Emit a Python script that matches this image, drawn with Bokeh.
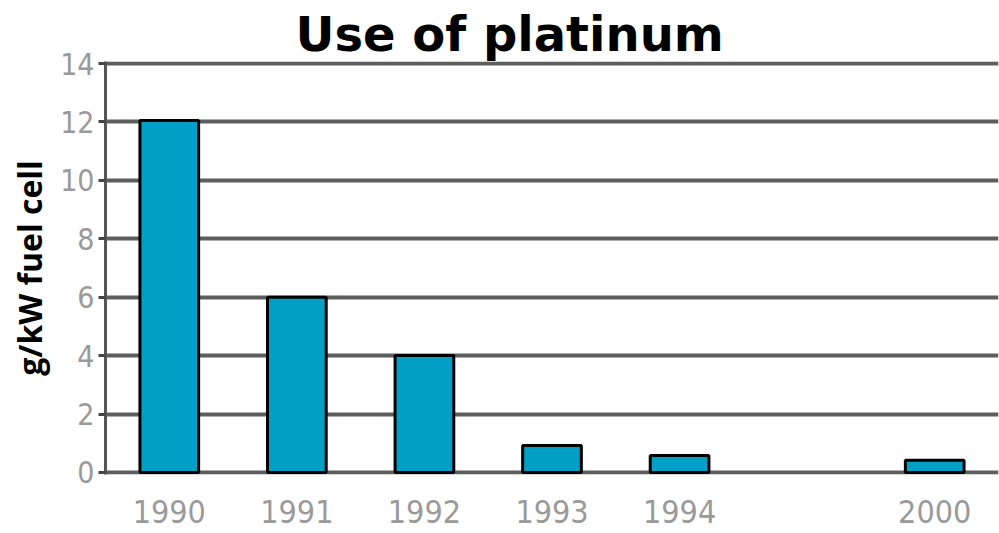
from bokeh.plotting import figure
from bokeh.models import FactorRange, FixedTicker, ColumnDataSource, Range1d
from bokeh.embed import file_html
from bokeh.resources import INLINE

title_text = "Use of platinum"
years = ["1990", "1991", "1992", "1993", "1994", "2000"]
values = [12.05, 6.0, 4.0, 0.92, 0.58, 0.42]
axis_factors = ["1990", "1991", "1992", "1993", "1994", " ", "2000"]
y_ticks = [0, 2, 4, 6, 8, 10, 12, 14]

src = ColumnDataSource(dict(x=years, top=values))

TICK_FONT = "'DejaVu Sans Condensed', 'Roboto', sans-serif"

p = figure(width=999, height=533, output_backend="svg", toolbar_location=None,
           x_range=FactorRange(factors=axis_factors, range_padding=0),
           y_range=Range1d(-0.07, 14.07),
           min_border_left=105, min_border_right=1, min_border_top=61, min_border_bottom=55,
           title=title_text)

p.title.text_font = "DejaVu Sans"
p.title.text_font_style = "bold"
p.title.text_font_size = "48px"
p.title.text_color = "black"
p.title.align = "left"
p.title.offset = 190
p.title.standoff = 0

p.outline_line_color = None
p.background_fill_color = "white"
p.border_fill_color = "white"

p.vbar(x="x", top="top", bottom=0, width=0.46, source=src,
       fill_color="#00A0C6", line_color="black", line_width=3)

p.xgrid.grid_line_color = None
p.ygrid.ticker = FixedTicker(ticks=y_ticks)
p.ygrid.grid_line_color = "#5e5e5e"
p.ygrid.grid_line_width = 4
p.ygrid.level = "underlay"

p.yaxis.ticker = FixedTicker(ticks=y_ticks)
p.yaxis.axis_line_color = "#555555"
p.yaxis.axis_line_width = 3
p.yaxis.major_tick_line_color = "#444444"
p.yaxis.major_tick_line_width = 3
p.yaxis.major_tick_out = 7
p.yaxis.major_tick_in = 0
p.yaxis.minor_tick_line_color = None
p.yaxis.major_label_text_font = TICK_FONT
p.yaxis.major_label_text_font_size = "30px"
p.yaxis.major_label_text_color = "#9a9a9a"
p.yaxis.major_label_standoff = 4
p.yaxis.axis_label = "g/kW fuel cell"
p.yaxis.axis_label_text_font = "Open Sans"
p.yaxis.axis_label_text_font_style = "bold"
p.yaxis.axis_label_text_font_size = "32px"
p.yaxis.axis_label_text_color = "black"
p.yaxis.axis_label_standoff = 6

p.xaxis.axis_line_color = None
p.xaxis.major_tick_line_color = None
p.xaxis.minor_tick_line_color = None
p.xaxis.major_label_text_font = TICK_FONT
p.xaxis.major_label_text_font_size = "32px"
p.xaxis.major_label_text_color = "#9a9a9a"
p.xaxis.major_label_standoff = 12

open("out.html", "w").write(file_html(p, INLINE))
